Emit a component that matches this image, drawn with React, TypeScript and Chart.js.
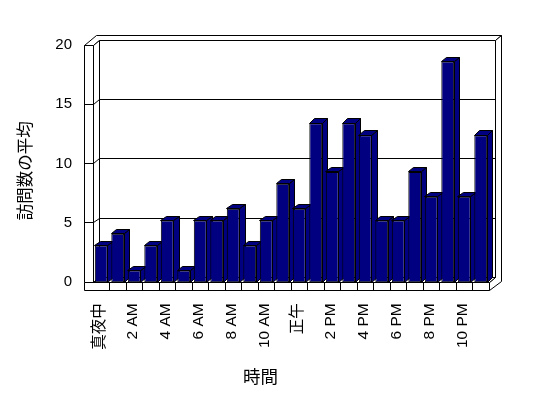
import React, { useEffect, useRef } from 'react';
import { Chart, registerables } from 'chart.js';

Chart.register(...registerables);

const hours = [
  '真夜中', '1 AM', '2 AM', '3 AM', '4 AM', '5 AM', '6 AM', '7 AM', '8 AM', '9 AM', '10 AM', '11 AM',
  '正午', '1 PM', '2 PM', '3 PM', '4 PM', '5 PM', '6 PM', '7 PM', '8 PM', '9 PM', '10 PM', '11 PM',
];
const visits = [3.1, 4.1, 1.0, 3.1, 5.2, 1.0, 5.2, 5.2, 6.2, 3.1, 5.2, 8.3, 6.2, 13.4, 9.3, 13.4, 12.4, 5.2, 5.2, 9.3, 7.2, 18.6, 7.2, 12.4];
const yTicks = [0, 5, 10, 15, 20];
const xTitle = '時間';
const yTitle = '訪問数の平均';

const FONT = "'Liberation Sans', 'Noto Sans CJK JP', sans-serif";
const CJK = "'Noto Sans CJK JP', sans-serif";
const NAVY = '#000080';
const DX = 6.2;
const DY = -4.8;
const WALL = 9;
const FLOOR = 8.5;

const snap = (v: number) => Math.round(v - 0.5) + 0.5;

function poly(ctx: CanvasRenderingContext2D, pts: number[][], fill: string) {
  ctx.beginPath();
  pts.forEach((p, i) => {
    const x = snap(p[0]);
    const y = snap(p[1]);
    if (i === 0) ctx.moveTo(x, y);
    else ctx.lineTo(x, y);
  });
  ctx.closePath();
  ctx.fillStyle = fill;
  ctx.fill();
  ctx.stroke();
}

function line(ctx: CanvasRenderingContext2D, pts: number[][]) {
  ctx.beginPath();
  pts.forEach((p, i) => {
    const x = snap(p[0]);
    const y = snap(p[1]);
    if (i === 0) ctx.moveTo(x, y);
    else ctx.lineTo(x, y);
  });
  ctx.stroke();
}

const frame3d = {
  id: 'frame3d',
  beforeDatasetsDraw(chart: any) {
    const { ctx, chartArea: ca, scales } = chart;
    const L = ca.left, R = ca.right, T = ca.top, B = ca.bottom;
    const P = (X: number, Y: number, Z: number) => [X + Z * DX, Y + Z * DY];
    ctx.save();
    ctx.lineWidth = 1;
    ctx.strokeStyle = '#000';
    // top face of left + back walls
    poly(ctx, [P(L - WALL, T, 0), P(L, T, 0), P(L, T, 1), P(R, T, 1), P(R, T, 2), P(L - WALL, T, 2)], '#fff');
    // right faces of back wall and floor
    poly(ctx, [P(R, T, 1), P(R, T, 2), P(R, B + FLOOR, 2), P(R, B + FLOOR, 0), P(R, B, 0), P(R, B, 1)], '#fff');
    // back wall inner face
    poly(ctx, [P(L, T, 1), P(R, T, 1), P(R, B, 1), P(L, B, 1)], '#fff');
    // left wall inner face
    poly(ctx, [P(L, T, 0), P(L, T, 1), P(L, B, 1), P(L, B, 0)], '#fff');
    // floor top
    poly(ctx, [P(L, B, 0), P(R, B, 0), P(R, B, 1), P(L, B, 1)], '#fff');
    // left wall front face
    poly(ctx, [P(L - WALL, T, 0), P(L, T, 0), P(L, B, 0), P(L - WALL, B, 0)], '#fff');
    // floor front face
    poly(ctx, [P(L - WALL, B, 0), P(R, B, 0), P(R, B + FLOOR, 0), P(L - WALL, B + FLOOR, 0)], '#fff');

    // gridlines
    const ys = scales.y;
    yTicks.forEach((v) => {
      if (v <= ys.min || v >= ys.max) return;
      const yy = ys.getPixelForValue(v);
      line(ctx, [P(L - WALL, yy, 0), P(L, yy, 0), P(L, yy, 1), P(R, yy, 1)]);
    });

    // floor category dividers
    const xs = scales.x;
    for (let i = 1; i < hours.length; i++) {
      const bx = (xs.getPixelForValue(i - 1) + xs.getPixelForValue(i)) / 2;
      line(ctx, [[bx, B], [bx, B + FLOOR]]);
    }

    // bar side and top faces
    const meta = chart.getDatasetMeta(0);
    const bdx = DX * 0.9;
    const bdy = DY * 0.9;
    meta.data.forEach((el: any) => {
      const { x, y, base, width } = el.getProps(['x', 'y', 'base', 'width'], true);
      const x0 = x - width / 2;
      const x1 = x + width / 2;
      poly(ctx, [[x1, y], [x1 + bdx, y + bdy], [x1 + bdx, base + bdy], [x1, base]], NAVY);
      poly(ctx, [[x0, y], [x1, y], [x1 + bdx, y + bdy], [x0 + bdx, y + bdy]], NAVY);
    });
    ctx.restore();
  },
  afterDraw(chart: any) {
    const { ctx, chartArea: ca } = chart;
    ctx.save();
    ctx.fillStyle = '#000';
    ctx.textAlign = 'center';
    ctx.textBaseline = 'middle';
    ctx.font = `17.5px ${CJK}`;
    ctx.fillText(xTitle, chart.width * 0.4754, chart.height - 21.3);
    ctx.translate(24.3, (ca.top + ca.bottom) / 2 + 7);
    ctx.rotate(-Math.PI / 2);
    ctx.font = `16.5px ${CJK}`;
    ctx.fillText(yTitle, 0, 0);
    ctx.restore();
  },
};

export default function App() {
  const ref = useRef<HTMLCanvasElement>(null);
  useEffect(() => {
    if (!ref.current) return;
    const chart = new Chart(ref.current, {
      type: 'bar',
      data: {
        labels: hours,
        datasets: [
          {
            data: visits,
            backgroundColor: NAVY,
            borderColor: '#000',
            borderWidth: 1,
            borderSkipped: false,
            barPercentage: 0.78,
            categoryPercentage: 1,
          },
        ],
      },
      options: {
        responsive: false,
        animation: false,
        devicePixelRatio: 1,
        layout: { padding: { left: 0, top: 45, right: 59, bottom: 0 } },
        plugins: { legend: { display: false }, tooltip: { enabled: false } },
        scales: {
          x: {
            grid: { display: false, drawTicks: false },
            border: { display: false },
            ticks: {
              autoSkip: false,
              maxRotation: 90,
              minRotation: 90,
              padding: 21,
              labelOffset: -2,
              color: '#000',
              font: { family: FONT, size: 15.5 },
              callback: (_v: any, i: number) => (i % 2 === 0 ? hours[i] : ''),
            },
            afterFit: (s: any) => {
              s.height = 115.7;
            },
          },
          y: {
            min: 0,
            max: 20,
            grid: { display: false, drawTicks: false },
            border: { display: false },
            ticks: {
              stepSize: 5,
              padding: 21,
              color: '#000',
              font: { family: FONT, size: 15 },
            },
            afterFit: (s: any) => {
              s.width = 93;
            },
          },
        },
      },
      plugins: [frame3d],
    });
    return () => chart.destroy();
  }, []);
  return (
    <div style={{ position: 'absolute', left: 0, top: 0, width: 548, height: 398, background: '#fff' }}>
      <canvas ref={ref} width={548} height={398} style={{ display: 'block' }} />
    </div>
  );
}
